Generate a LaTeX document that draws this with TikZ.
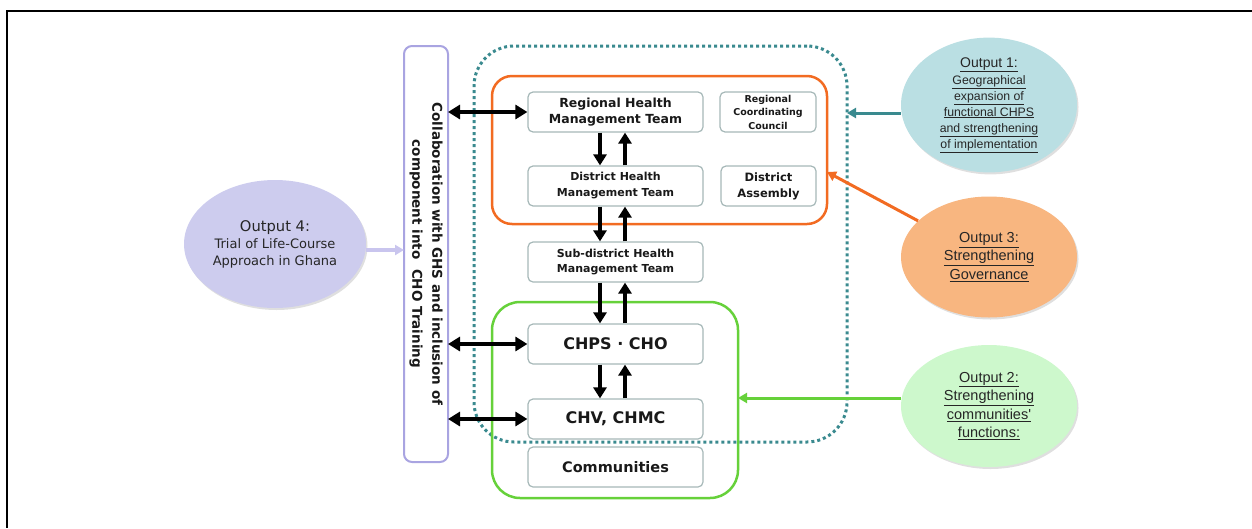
\documentclass[tikz,border=0pt]{standalone}
\usepackage{fontspec}
\setmainfont{DejaVu Sans}
\newfontfamily\arialf{Liberation Sans}
\usetikzlibrary{arrows.meta,shapes.geometric,shadows}

\definecolor{tealdot}{HTML}{3A8A8F}
\definecolor{orangeline}{HTML}{F26B22}
\definecolor{greenline}{HTML}{66D13A}
\definecolor{lavline}{HTML}{A9A4E1}
\definecolor{boxline}{HTML}{A6B8B8}
\definecolor{fillone}{HTML}{BADFE3}
\definecolor{fillthree}{HTML}{F8B680}
\definecolor{filltwo}{HTML}{CDF8CC}
\definecolor{fillfour}{HTML}{CDCCEE}
\definecolor{lavarrow}{HTML}{C9C5EE}

\tikzset{
  unitbox/.style={draw=boxline, line width=1.2pt, rounded corners=5pt, fill=white,
    inner sep=0pt, minimum width=175pt, minimum height=40pt, align=center,
    font=\bfseries, text=black!90},
  sidebox/.style={unitbox, minimum width=96pt},
  frame/.style={inner sep=0pt, outer sep=0pt},
  outcome/.style={ellipse, inner sep=0pt, align=center, text=black!85,
    drop shadow={opacity=0.25, shadow xshift=1.5pt, shadow yshift=-2pt}},
  updown/.style={line width=4pt, -{Triangle[width=13pt,length=11pt]}},
  twoway/.style={line width=4pt, {Triangle[width=14pt,length=12pt]}-{Triangle[width=14pt,length=12pt]}},
  feed/.style={line width=3pt, -{Triangle[width=10pt,length=9pt]}},
}

\begin{document}
\begin{tikzpicture}[x=1pt,y=-1pt]
\useasboundingbox (0,0) rectangle (1252,528);

% page frame (top and left edges)
\draw[line width=2.5pt] (1252,11) -- (7,11) -- (7,528);

% containers
\node[frame, draw=tealdot, line width=3pt, dash pattern=on 3pt off 3pt,
  rounded corners=40pt, minimum width=373pt, minimum height=396pt] (teal) at (660.5,244) {};
\node[frame, draw=orangeline, line width=2.5pt, rounded corners=20pt,
  minimum width=335pt, minimum height=148pt] (gov) at (659.5,150) {};
\node[frame, draw=greenline, line width=2.5pt, rounded corners=28pt,
  minimum width=246pt, minimum height=196pt] (comm) at (615,400) {};
\node[frame, draw=lavline, line width=2pt, rounded corners=8pt, fill=white,
  minimum width=44pt, minimum height=416pt] (collab) at (426,254) {};
\node[rotate=-90, align=center, font=\bfseries\fontsize{13.5}{20}\selectfont, text=black!90]
  at (collab.center) {Collaboration with GHS and inclusion of\\component into\ \ CHO Training};

% management levels
\node[unitbox, font=\bfseries\fontsize{12.5}{16}\selectfont] (rhmt) at (615.5,112) {Regional Health\\Management Team};
\node[sidebox, font=\bfseries\fontsize{9.5}{13.5}\selectfont] (rcc) at (768,112) {Regional\\Coordinating\\Council};
\node[unitbox, font=\bfseries\fontsize{11}{16}\selectfont] (dhmt) at (615.5,186) {District Health\\Management Team};
\node[sidebox, minimum width=95pt, font=\bfseries\fontsize{11.5}{16}\selectfont] (da) at (768.5,186) {District\\Assembly};
\node[unitbox, font=\bfseries\fontsize{11}{15}\selectfont] (sub) at (615.5,262) {Sub-district Health\\Management Team};
\node[unitbox, font=\bfseries\fontsize{16}{18}\selectfont] (chps) at (615.5,344) {CHPS · CHO};
\node[unitbox, font=\bfseries\fontsize{16}{18}\selectfont] (chv) at (615.5,419) {CHV, CHMC};
\node[unitbox, font=\bfseries\fontsize{14.5}{17}\selectfont] (cty) at (615.5,467) {Communities};

% vertical flows: down on the left, up on the right
\foreach \a/\b in {rhmt/dhmt, dhmt/sub, sub/chps, chps/chv}{
  \draw[updown] ([xshift=-15.5pt]\a.south) -- ([xshift=-15.5pt]\b.north);
  \draw[updown] ([xshift=9.5pt]\b.north) -- ([xshift=9.5pt]\a.south);
}

% links with the collaboration bar
\foreach \n in {rhmt, chps, chv}{
  \draw[twoway] (collab.east |- \n.west) -- (\n.west);
}

% outputs
\node[outcome, fill=fillone, minimum width=176pt, minimum height=113pt,
  font=\arialf\fontsize{12.3}{16}\selectfont] (out1) at (989,105)
  {{\fontsize{14}{16}\selectfont\underline{Output 1:}}\\[1pt]\underline{Geographical}\\\underline{expansion of}\\\underline{functional CHPS}\\\underline{and strengthening}\\\underline{of implementation}};
\node[outcome, fill=fillthree, minimum width=176pt, minimum height=121pt,
  font=\arialf\fontsize{14.5}{18.5}\selectfont] (out3) at (989,257)
  {\underline{Output 3:}\\\underline{Strengthening}\\\underline{Governance}};
\node[outcome, fill=filltwo, minimum width=176pt, minimum height=122pt,
  font=\arialf\fontsize{14.5}{18.5}\selectfont] (out2) at (989,406)
  {\underline{Output 2:}\\\underline{Strengthening}\\\underline{communities'}\\\underline{functions:}};
\node[outcome, fill=fillfour, minimum width=182pt, minimum height=128pt,
  font=\fontsize{13}{17}\selectfont] (out4) at (275,244)
  {{\fontsize{14.7}{17}\selectfont Output 4:}\\Trial of Life-Course\\Approach in Ghana};

% output connectors
\coordinate (o1p) at ([yshift=-8pt]out1.west);
\coordinate (o2p) at ([yshift=8pt]out2.west);
\coordinate (o4p) at ([yshift=-6pt]out4.east);
\draw[feed, tealdot] (o1p) -- (teal.east |- o1p);
\draw[feed, orangeline] (out3.153) -- ([yshift=-22pt]gov.east);
\draw[feed, greenline] (o2p) -- (comm.east |- o2p);
\draw[feed, lavarrow, line width=4pt] (o4p) -- (collab.west |- o4p);
\end{tikzpicture}
\end{document}
